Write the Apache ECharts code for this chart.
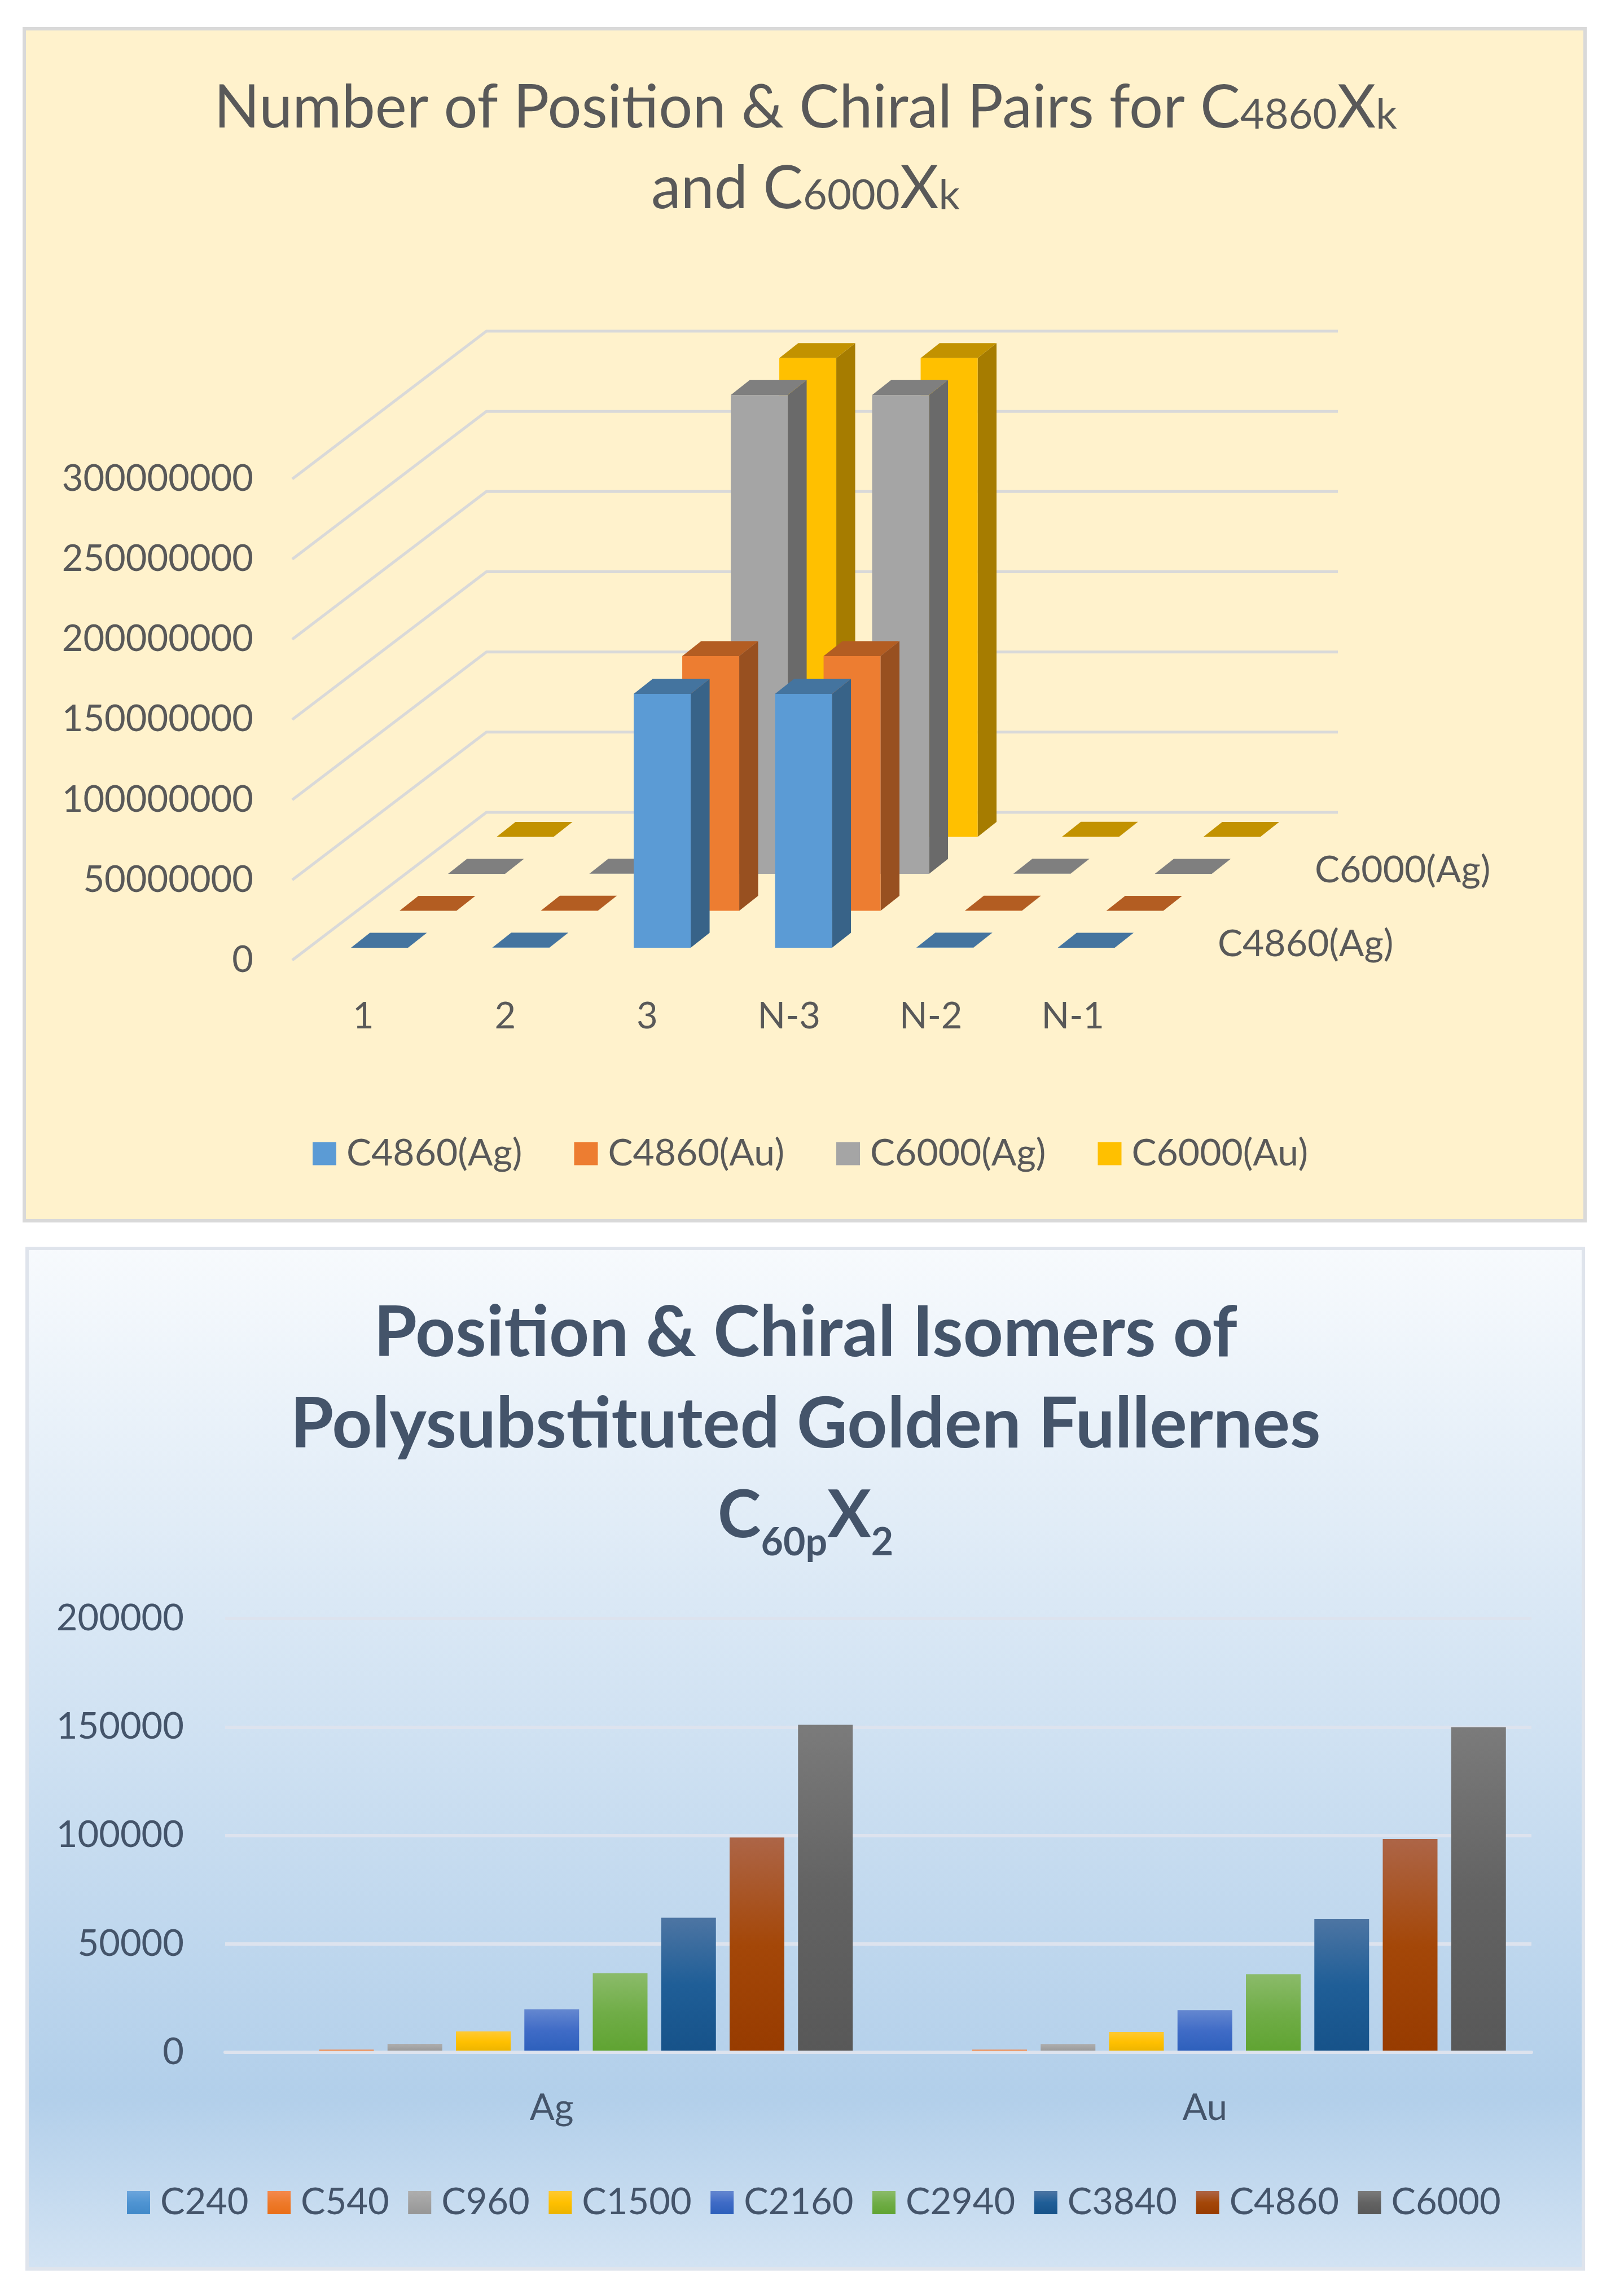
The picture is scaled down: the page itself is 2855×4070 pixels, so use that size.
<!DOCTYPE html>
<html>
<head>
<meta charset="utf-8">
<style>html,body{margin:0;padding:0;background:#fff}#c{width:2855px;height:4070px}</style>
<script src="https://cdn.jsdelivr.net/npm/echarts@6/dist/echarts.min.js"></script>
</head>
<body>
<div id="c"></div>
<script>
// ---- chart 1 data ----
const pairCategories = ['1', '2', '3', 'N-3', 'N-2', 'N-1'];
const pairTicks = [0, 50000000, 100000000, 150000000, 200000000, 250000000, 300000000];
const pairC4860Ag = [1, 99000, 158300000, 158300000, 99000, 1];
const pairC4860Au = [1, 98300, 158800000, 158800000, 98300, 1];
const pairC6000Ag = [1, 151000, 298500000, 298500000, 151000, 1];
const pairC6000Au = [1, 149900, 298500000, 298500000, 149900, 1];
const depthNames = ['C4860(Ag)', 'C6000(Ag)'];
const depthSlots = [0, 2];

// ---- chart 2 data ----
const isomerCategories = ['Ag', 'Au'];
const isomerNames = ['C240', 'C540', 'C960', 'C1500', 'C2160', 'C2940', 'C3840', 'C4860', 'C6000'];
const isomerAg = [240, 1250, 3900, 9600, 19800, 36400, 62000, 99000, 151000];
const isomerAu = [240, 1215, 3840, 9375, 19440, 36000, 61400, 98300, 149900];

// ---- styling ----
const FONT = 'Lato';
const GREY = '#595959';
const SLATE = '#44546A';
const faces1 = [
  { front: '#5B9BD5', side: '#386388', top: '#44749F' },
  { front: '#ED7D31', side: '#985020', top: '#B35D22' },
  { front: '#A5A5A5', side: '#6A6A6A', top: '#7F7F7F' },
  { front: '#FFC000', side: '#A67C00', top: '#C29200' }
];
const stops2 = [
  ['#6CA5DC', '#4F94D2', '#4189C9'], ['#F4894E', '#EE7A2B', '#E96E17'],
  ['#AEAEAE', '#A2A2A2', '#969696'], ['#FFC933', '#FFC000', '#EBB300'],
  ['#6487D0', '#3F6BC6', '#2C5FBB'], ['#8BBB6A', '#70AD47', '#5FA331'],
  ['#4D75A3', '#1F5E97', '#165289'], ['#AD6547', '#A44708', '#973B00'],
  ['#7B7B7B', '#636363', '#585858']
];
const SLOT_DX = 86, SLOT_DY = 65.5;      // floor shift per depth slot
const BAR_DX = 33.5, BAR_DY = 26.5;      // bar thickness in depth
const SLOT_GAP = 0.335;                  // gap in front of the bar within a slot
const BAR_WIDTH = 101;
const BAND_TRIM = 1;                     // bars step slightly tighter than the labels

const grad = s => new echarts.graphic.LinearGradient(0, 0, 0, 1, [
  { offset: 0, color: s[0] }, { offset: 0.5, color: s[1] }, { offset: 1, color: s[2] }
]);

function bar3d(slot, faces) {
  return function (params, api) {
    const i = api.value(0);
    const top = api.coord([i, api.value(1)]);
    const base = api.coord([i, 0]);
    const w = BAR_WIDTH;
    const ox = (slot + SLOT_GAP) * SLOT_DX - i * BAND_TRIM, oy = (slot + SLOT_GAP) * SLOT_DY;
    const l = base[0] - w / 2 + ox, r = l + w, yb = base[1] - oy, yt = top[1] - oy;
    return { type: 'group', children: [
      { type: 'polygon', shape: { points: [[r, yb], [r + BAR_DX, yb - BAR_DY], [r + BAR_DX, yt - BAR_DY], [r, yt]] }, style: { fill: faces.side } },
      { type: 'polygon', shape: { points: [[l, yt], [r, yt], [r + BAR_DX, yt - BAR_DY], [l + BAR_DX, yt - BAR_DY]] }, style: { fill: faces.top } },
      { type: 'rect', shape: { x: l, y: yt, width: w, height: yb - yt }, style: { fill: faces.front } }
    ] };
  };
}
const wallDX = 4 * SLOT_DX, wallDY = 4 * SLOT_DY;
function wallRender(params, api) {
  const p = api.coord([0, api.value(1)]);
  const cs = params.coordSys;
  return { type: 'polyline', shape: { points: [[cs.x, p[1]], [cs.x + wallDX, p[1] - wallDY], [cs.x + cs.width + wallDX, p[1] - wallDY]] },
    style: { stroke: '#D9D9D9', lineWidth: 5, fill: null, lineJoin: 'miter' } };
}
function depthRender(params, api) {
  const cs = params.coordSys;
  const slot = api.value(1);
  const p = api.coord([0, 0]);
  return { type: 'text', style: {
    text: depthNames[params.dataIndex],
    x: cs.x + cs.width + (slot + 0.5) * SLOT_DX + 88,
    y: p[1] - (slot + 0.5) * SLOT_DY + 4,
    fill: GREY, font: '66px ' + FONT, textAlign: 'left', textVerticalAlign: 'middle'
  } };
}
const pairData = [pairC4860Ag, pairC4860Au, pairC6000Ag, pairC6000Au];
const pairNames = ['C4860(Ag)', 'C4860(Au)', 'C6000(Ag)', 'C6000(Au)'];

const series = [
  { type: 'custom', name: 'walls', xAxisIndex: 0, yAxisIndex: 0, z: 1, silent: true,
    encode: { x: 0, y: 1 }, data: pairTicks.map(t => [0, t]), renderItem: wallRender },
  { type: 'custom', name: 'depth', xAxisIndex: 0, yAxisIndex: 0, z: 1, silent: true,
    encode: { x: 0, y: 2 }, data: depthSlots.map(s => [0, s, 0]), renderItem: depthRender }
];
pairData.forEach((vals, s) => series.push({
  type: 'custom', name: pairNames[s], xAxisIndex: 0, yAxisIndex: 0, z: 10 - s,
  itemStyle: { color: faces1[s].front }, encode: { x: 0, y: 1 },
  data: vals.map((v, i) => [i, v]), renderItem: bar3d(s, faces1[s])
}));
isomerNames.forEach((n, s) => series.push({
  type: 'bar', name: n, xAxisIndex: 1, yAxisIndex: 1, barWidth: 97, barGap: '25%',
  itemStyle: { color: grad(stops2[s]) }, data: [isomerAg[s], isomerAu[s]]
}));

const panel2Fill = new echarts.graphic.LinearGradient(0, 0, 0, 1, [
  { offset: 0, color: '#F7FAFD' }, { offset: 0.83, color: '#B2CFEA' }, { offset: 1, color: '#D3E3F3' }
]);

const plain = v => String(v);
const subRich = (color, size, subSize, weight, line, subLine, subPad) => ({
  a: { fontFamily: FONT, fontSize: size, color, fontWeight: weight, lineHeight: line },
  b: { fontFamily: FONT, fontSize: size - 8, color, fontWeight: weight, lineHeight: line },
  s: { fontFamily: FONT, fontSize: subSize, color, fontWeight: weight, lineHeight: subLine, verticalAlign: 'bottom', padding: [0, 0, subPad, 0] }
});

const option = {
  animation: false,
  backgroundColor: '#ffffff',
  graphic: [
    { type: 'rect', z: -10, shape: { x: 43, y: 51, width: 2766, height: 2113 }, style: { fill: '#FFF2CC', stroke: '#D9D9D9', lineWidth: 6 } },
    { type: 'rect', z: -10, shape: { x: 48, y: 2213, width: 2758, height: 1809 }, style: { fill: panel2Fill, stroke: '#DFE4EC', lineWidth: 6 } }
  ],
  title: [
    { left: 'center', top: 120, padding: 0,
      text: '{a|Number of Position & Chiral Pairs for C}{s|4860}{a|X}{s|k}\n{a|and C}{s|6000}{a|X}{s|k}',
      textStyle: { rich: subRich(GREY, 106, 74, 400, 143, 122, 22) } },
    { left: 'center', top: 2283, padding: 0,
      text: '{a|Position & Chiral Isomers of}\n{a|Polysubstituted Golden Fullernes}\n{b|C}{s|60p}{b|X}{s|2}',
      textStyle: { rich: subRich(SLATE, 124, 68, 700, 162, 66, 0) } }
  ],
  grid: [
    { left: 518, top: 849, width: 1509, height: 853 },
    { left: 399, top: 2869, width: 2315, height: 769 }
  ],
  xAxis: [
    { type: 'category', gridIndex: 0, data: pairCategories, axisLine: { show: false }, axisTick: { show: false },
      axisLabel: { color: GREY, fontFamily: FONT, fontSize: 65, margin: 68 } },
    { type: 'category', gridIndex: 1, data: isomerCategories, axisTick: { show: false }, z: 4,
      axisLine: { lineStyle: { color: '#DDE3EE', width: 6 } },
      axisLabel: { color: SLATE, fontFamily: FONT, fontSize: 65, margin: 67 } }
  ],
  yAxis: [
    { type: 'value', gridIndex: 0, min: 0, max: 300000000, interval: 50000000, splitLine: { show: false },
      axisLine: { show: false }, axisTick: { show: false },
      axisLabel: { color: GREY, fontFamily: FONT, fontSize: 65, margin: 69, formatter: plain } },
    { type: 'value', gridIndex: 1, min: 0, max: 200000, interval: 50000,
      splitLine: { lineStyle: { color: '#DDE3EE', width: 6 } },
      axisLine: { show: false }, axisTick: { show: false },
      axisLabel: { color: SLATE, fontFamily: FONT, fontSize: 65, margin: 73, formatter: plain } }
  ],
  legend: [
    { left: 554, top: 2012, padding: 0, orient: 'horizontal', itemWidth: 42, itemHeight: 41, itemGap: 92,
      icon: 'rect', data: pairNames, selectedMode: false,
      textStyle: { color: GREY, fontFamily: FONT, fontSize: 66, padding: [0, 0, 0, 13] } },
    { left: 225, top: 3872, padding: 0, orient: 'horizontal', itemWidth: 41, itemHeight: 41, itemGap: 33.6,
      icon: 'rect', data: isomerNames, selectedMode: false,
      textStyle: { color: SLATE, fontFamily: FONT, fontSize: 65, padding: [0, 0, 0, 13] } }
  ],
  series
};
const chart = echarts.init(document.getElementById('c'), null, { renderer: 'canvas', width: 2855, height: 4070 });
chart.setOption(option);
</script>
</body>
</html>
